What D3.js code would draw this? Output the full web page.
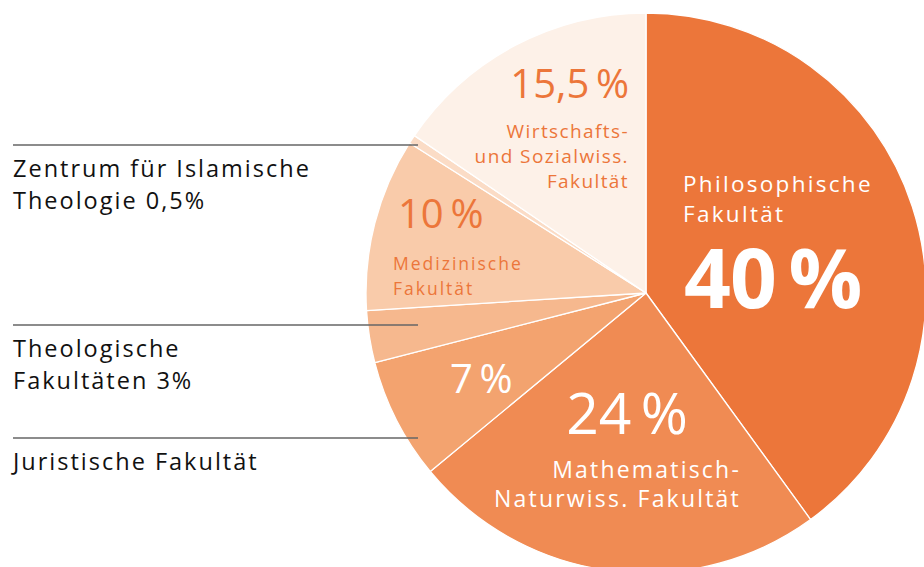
<!DOCTYPE html>
<html>
<head>
<meta charset="utf-8">
<script src="https://cdn.jsdelivr.net/npm/d3@7"></script>
<style>
  body { margin: 0; background: #fff; }
  svg text { font-family: "Open Sans", "Noto Sans", sans-serif; }
</style>
</head>
<body>
<div class="main"></div>
<script>
// share of staff by faculty, clockwise from 12 o'clock
const faculties = [
  "Philosophische Fakultät",
  "Mathematisch-Naturwiss. Fakultät",
  "Juristische Fakultät",
  "Theologische Fakultäten",
  "Medizinische Fakultät",
  "Zentrum für Islamische Theologie",
  "Wirtschafts- und Sozialwiss. Fakultät",
];
const shares = [40, 24, 7, 3, 10, 0.5, 15.5];
const sliceColors = ["#ec763a", "#f08b53", "#f3a36f", "#f6b88e", "#f9cbaa", "#fbdcc6", "#fdf1e8"];

let fullwidth = 924;
let fullheight = 567;
let cx = 646;
let cy = 293;
let radius = 280;

const svg = d3
  .select(".main")
  .append("svg")
  .attr("width", fullwidth)
  .attr("height", fullheight);

const color = d3.scaleOrdinal().domain(faculties).range(sliceColors);

const pie = d3.pie().sort(null).value((d) => d.value);
const arc = d3.arc().innerRadius(0).outerRadius(radius);

const data = faculties.map((f, i) => ({ name: f, value: shares[i] }));

const g = svg.append("g").attr("transform", "translate(" + cx + "," + cy + ")");

g.selectAll("path")
  .data(pie(data))
  .join("path")
  .attr("d", arc)
  .attr("fill", (d) => color(d.data.name))
  .attr("stroke", "#fff")
  .attr("stroke-width", 1.3)
  .attr("stroke-linejoin", "round");

// labels inside the slices (offsets from the pie centre)
function label(lines, x, y, opts) {
  const t = g
    .append("text")
    .attr("x", x)
    .attr("y", y)
    .attr("fill", opts.fill)
    .attr("font-size", opts.size)
    .attr("font-weight", opts.weight || 400)
    .attr("letter-spacing", opts.spacing || 0)
    .attr("text-anchor", opts.anchor || "start");
  lines.forEach((l, i) => {
    t.append("tspan")
      .attr("x", x)
      .attr("dy", i === 0 ? 0 : opts.lh)
      .text(l);
  });
  return t;
}

const orange = "#ec763a";
const thin = "\u2009";

// Wirtschafts
label(["15,5" + thin + "%"], -17, -195, { fill: orange, size: 40, anchor: "end" });
label(["Wirtschafts-", "und Sozialwiss.", "Fakultät"], -17, -155, {
  fill: orange, size: 19, anchor: "end", lh: 25, spacing: 1.4,
});
// Medizinische
label(["10" + thin + "%"], -248, -65, { fill: orange, size: 40 });
label(["Medizinische", "Fakultät"], -253, -23, { fill: orange, size: 17.5, lh: 25, spacing: 2 });
// Juristische
label(["7" + thin + "%"], -196, 100, { fill: "#fff", size: 40 });
// Mathematisch
label(["24" + thin + "%"], -19, 141, { fill: "#fff", size: 57, anchor: "middle" });
label(["Mathematisch-", "Naturwiss. Fakultät"], 95, 185, {
  fill: "#fff", size: 23, anchor: "end", lh: 29, spacing: 2.2,
});
// Philosophische
label(["Philosophische", "Fakultät"], 37, -101, { fill: "#fff", size: 22.5, lh: 30, spacing: 2.3 });
label(["40" + thin + "%"], 38, 15, { fill: "#fff", size: 82, weight: 700, spacing: -1 });

// leader lines and notes on the left
const notes = [
  { y: 145, lines: ["Zentrum für Islamische", "Theologie 0,5%"] },
  { y: 325, lines: ["Theologische", "Fakultäten 3%"] },
  { y: 438, lines: ["Juristische Fakultät"] },
];

notes.forEach((n) => {
  svg
    .append("line")
    .attr("x1", 13)
    .attr("x2", 418)
    .attr("y1", n.y)
    .attr("y2", n.y)
    .attr("stroke", "#666")
    .attr("stroke-width", 1.3);
  const t = svg
    .append("text")
    .attr("x", 13)
    .attr("y", n.y + 32)
    .attr("fill", "#111")
    .attr("font-size", 23.5)
    .attr("letter-spacing", 2);
  n.lines.forEach((l, i) => {
    t.append("tspan").attr("x", 13).attr("dy", i === 0 ? 0 : 32).text(l);
  });
});
</script>
</body>
</html>
